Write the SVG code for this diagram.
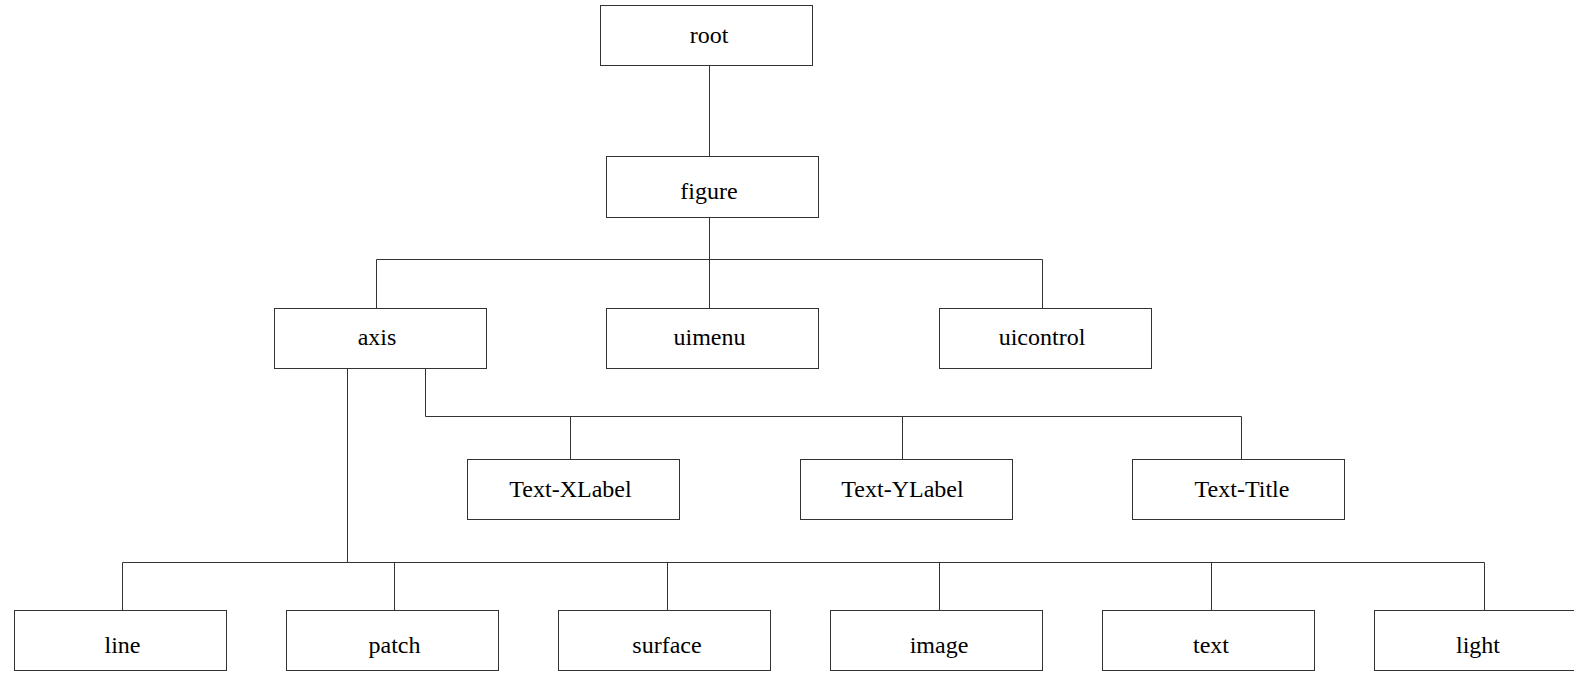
<svg xmlns="http://www.w3.org/2000/svg" width="1574" height="676" viewBox="0 0 1574 676">
<style>
rect{fill:#fff;stroke:#333;stroke-width:1}
text{font-family:"Liberation Serif","Times New Roman",serif;font-size:24px;fill:#000;text-anchor:middle}
#connectors path{fill:none;stroke:#333;stroke-width:1}
</style>
<rect x="0" y="0" width="1574" height="676" style="stroke:none"/>
<g id="connectors">
<path d="M709.5 65.5V156.5"/>
<path d="M709.5 217.5V308.5M376.5 308.5V259.5H1042.5V308.5"/>
<path d="M425.5 368.5V416.5H1241.5V459.5M570.5 416.5V459.5M902.5 416.5V459.5"/>
<path d="M347.5 368.5V562.5M122.5 610.5V562.5H1484.5V610.5M394.5 562.5V610.5M667.5 562.5V610.5M939.5 562.5V610.5M1211.5 562.5V610.5"/>
</g>
<g id="root"><rect x="600.5" y="5.5" width="212" height="60"/><text x="709" y="43">root</text></g>
<g id="figure"><rect x="606.5" y="156.5" width="212" height="61"/><text x="709" y="199">figure</text></g>
<g id="axis"><rect x="274.5" y="308.5" width="212" height="60"/><text x="377" y="345">axis</text></g>
<g id="uimenu"><rect x="606.5" y="308.5" width="212" height="60"/><text x="709.5" y="345">uimenu</text></g>
<g id="uicontrol"><rect x="939.5" y="308.5" width="212" height="60"/><text x="1042" y="345">uicontrol</text></g>
<g id="text-xlabel"><rect x="467.5" y="459.5" width="212" height="60"/><text x="570.5" y="497">Text-XLabel</text></g>
<g id="text-ylabel"><rect x="800.5" y="459.5" width="212" height="60"/><text x="902.5" y="497">Text-YLabel</text></g>
<g id="text-title"><rect x="1132.5" y="459.5" width="212" height="60"/><text x="1242" y="497">Text-Title</text></g>
<g id="line"><rect x="14.5" y="610.5" width="212" height="60"/><text x="122.5" y="653">line</text></g>
<g id="patch"><rect x="286.5" y="610.5" width="212" height="60"/><text x="394.5" y="653">patch</text></g>
<g id="surface"><rect x="558.5" y="610.5" width="212" height="60"/><text x="667" y="653">surface</text></g>
<g id="image"><rect x="830.5" y="610.5" width="212" height="60"/><text x="939" y="653">image</text></g>
<g id="text"><rect x="1102.5" y="610.5" width="212" height="60"/><text x="1211" y="653">text</text></g>
<g id="light"><rect x="1374.5" y="610.5" width="212" height="60"/><text x="1478" y="653">light</text></g>
</svg>
